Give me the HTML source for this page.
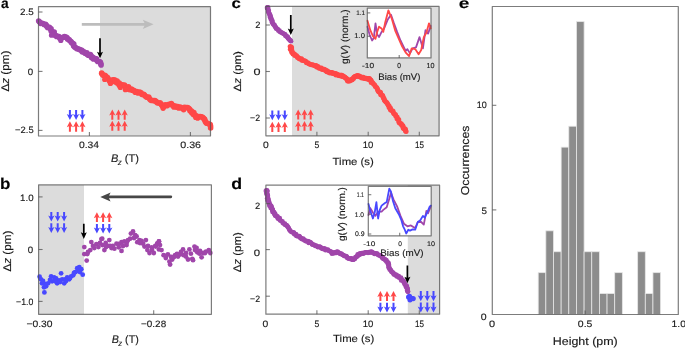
<!DOCTYPE html>
<html><head><meta charset="utf-8"><style>
html,body{margin:0;padding:0;background:#fff;width:685px;height:348px;overflow:hidden}
svg{display:block}
text{font-family:"Liberation Sans",sans-serif;text-rendering:geometricPrecision}
</style></head><body>
<svg width="685" height="348" viewBox="0 0 685 348">
<rect width="685" height="348" fill="#fff"/>
<rect x="100" y="6.7" width="110.5" height="129.3" fill="#dcdcdc"/>
<line x1="81.8" y1="24.3" x2="146" y2="24.3" stroke="#bdbdbd" stroke-width="2.7"/>
<path d="M153.6 24.3L142.8 19.7L145.2 24.3L142.8 28.9Z" fill="#bdbdbd"/>
<g fill="#a046aa"><circle cx="38.65" cy="21.12" r="2.8"/><circle cx="39.74" cy="22" r="2.8"/><circle cx="40.57" cy="23.33" r="2.8"/><circle cx="42.23" cy="23.24" r="2.8"/><circle cx="43.22" cy="23.84" r="2.8"/><circle cx="44.17" cy="24.51" r="2.8"/><circle cx="45.56" cy="24.31" r="2.8"/><circle cx="46.28" cy="25.42" r="2.8"/><circle cx="46.96" cy="26.41" r="2.8"/><circle cx="47.57" cy="27.46" r="2.8"/><circle cx="49.39" cy="27.28" r="2.8"/><circle cx="49.93" cy="28.4" r="2.8"/><circle cx="51.08" cy="28.92" r="2.8"/><circle cx="51.09" cy="30.96" r="2.8"/><circle cx="52.28" cy="31.82" r="2.8"/><circle cx="54.22" cy="31.93" r="2.8"/><circle cx="53.85" cy="34.21" r="2.8"/><circle cx="54.58" cy="35.05" r="2.8"/><circle cx="55.76" cy="35.53" r="2.8"/><circle cx="56.58" cy="36.4" r="2.8"/><circle cx="58.09" cy="36.27" r="2.8"/><circle cx="59.27" cy="36.68" r="2.8"/><circle cx="59.74" cy="38.2" r="2.8"/><circle cx="60.49" cy="37.97" r="2.8"/><circle cx="61.93" cy="37.72" r="2.8"/><circle cx="63.34" cy="37.31" r="2.8"/><circle cx="64.46" cy="36.5" r="2.8"/><circle cx="66.05" cy="36.95" r="2.8"/><circle cx="67.1" cy="37.78" r="2.8"/><circle cx="67.61" cy="39.27" r="2.8"/><circle cx="69.05" cy="39.65" r="2.8"/><circle cx="69.89" cy="40.68" r="2.8"/><circle cx="70.94" cy="41.46" r="2.8"/><circle cx="71.54" cy="42.63" r="2.8"/><circle cx="72.68" cy="43.32" r="2.8"/><circle cx="73.79" cy="44.05" r="2.8"/><circle cx="73.6" cy="46" r="2.8"/><circle cx="74.62" cy="47.03" r="2.8"/><circle cx="75.87" cy="47.83" r="2.8"/><circle cx="77.08" cy="48.67" r="2.8"/><circle cx="78.57" cy="49.07" r="2.8"/><circle cx="79.67" cy="49.44" r="2.8"/><circle cx="80.64" cy="50.07" r="2.8"/><circle cx="81.87" cy="50.21" r="2.8"/><circle cx="82.31" cy="52" r="2.8"/><circle cx="83.97" cy="51.85" r="2.8"/><circle cx="85.05" cy="53.21" r="2.8"/><circle cx="86.84" cy="52.92" r="2.8"/><circle cx="87.17" cy="54.61" r="2.8"/><circle cx="88.33" cy="55.2" r="2.8"/><circle cx="90.38" cy="54.63" r="2.8"/><circle cx="91.1" cy="55.7" r="2.8"/><circle cx="91.4" cy="57.53" r="2.8"/><circle cx="92.88" cy="57.4" r="2.8"/><circle cx="93.37" cy="58.9" r="2.8"/><circle cx="95.02" cy="58.53" r="2.8"/><circle cx="96.46" cy="58.79" r="2.8"/><circle cx="96.85" cy="60.46" r="2.8"/><circle cx="97.72" cy="61.47" r="2.8"/><circle cx="99.49" cy="61.55" r="2.8"/><circle cx="100.46" cy="62.39" r="2.8"/><circle cx="100.71" cy="63.69" r="2.8"/><circle cx="101.1" cy="64.9" r="2.8"/></g>
<g fill="#a046aa"><circle cx="51.5" cy="35.2" r="2.6"/><circle cx="60.8" cy="40.5" r="2.6"/></g>
<g fill="#ff4848"><circle cx="101.64" cy="73.16" r="2.8"/><circle cx="102.28" cy="74.32" r="2.8"/><circle cx="103.16" cy="75.24" r="2.8"/><circle cx="104.81" cy="75.39" r="2.8"/><circle cx="105.64" cy="75.93" r="2.8"/><circle cx="106.38" cy="77.11" r="2.8"/><circle cx="107.54" cy="77.46" r="2.8"/><circle cx="107.86" cy="78.7" r="2.8"/><circle cx="108.73" cy="79.79" r="2.8"/><circle cx="109.56" cy="80.9" r="2.8"/><circle cx="110.46" cy="82.1" r="2.8"/><circle cx="111.61" cy="81.6" r="2.8"/><circle cx="112.08" cy="80.07" r="2.8"/><circle cx="113.56" cy="79.9" r="2.8"/><circle cx="114.9" cy="80.04" r="2.8"/><circle cx="115.18" cy="81.95" r="2.8"/><circle cx="117.1" cy="81.12" r="2.8"/><circle cx="117.19" cy="82.88" r="2.8"/><circle cx="119.25" cy="83.16" r="2.8"/><circle cx="119.13" cy="85.06" r="2.8"/><circle cx="120.13" cy="85.72" r="2.8"/><circle cx="121.45" cy="85.09" r="2.8"/><circle cx="122.25" cy="84.91" r="2.8"/><circle cx="124.44" cy="85.09" r="2.8"/><circle cx="125.24" cy="86.31" r="2.8"/><circle cx="125.56" cy="88.82" r="2.8"/><circle cx="126.7" cy="87.77" r="2.8"/><circle cx="128.47" cy="86.83" r="2.8"/><circle cx="128.47" cy="89.03" r="2.8"/><circle cx="129.55" cy="89.7" r="2.8"/><circle cx="131.47" cy="89.02" r="2.8"/><circle cx="132.22" cy="90.14" r="2.8"/><circle cx="133.55" cy="90.21" r="2.8"/><circle cx="134.43" cy="91.1" r="2.8"/><circle cx="135.25" cy="92.24" r="2.8"/><circle cx="136.8" cy="91.61" r="2.8"/><circle cx="137.96" cy="92.92" r="2.8"/><circle cx="139.73" cy="91.96" r="2.8"/><circle cx="141.01" cy="92.72" r="2.8"/><circle cx="141.9" cy="94.45" r="2.8"/><circle cx="143.63" cy="94.25" r="2.8"/><circle cx="144.48" cy="95.05" r="2.8"/><circle cx="145.12" cy="96.09" r="2.8"/><circle cx="146.16" cy="96.69" r="2.8"/><circle cx="147.08" cy="97.28" r="2.8"/><circle cx="148.72" cy="97.12" r="2.8"/><circle cx="149.6" cy="98.91" r="2.8"/><circle cx="150.61" cy="99.94" r="2.8"/><circle cx="151.83" cy="100.56" r="2.8"/><circle cx="153.33" cy="100.59" r="2.8"/><circle cx="154.83" cy="100.64" r="2.8"/><circle cx="156.02" cy="101.26" r="2.8"/><circle cx="156.93" cy="102.44" r="2.8"/><circle cx="158.14" cy="103.01" r="2.8"/><circle cx="160.01" cy="102.72" r="2.8"/><circle cx="160.75" cy="103.7" r="2.8"/><circle cx="161.48" cy="104.7" r="2.8"/><circle cx="162.18" cy="105.72" r="2.8"/><circle cx="163.32" cy="107.08" r="2.8"/><circle cx="164.3" cy="106.03" r="2.8"/><circle cx="165.16" cy="104.69" r="2.8"/><circle cx="166.86" cy="105.73" r="2.8"/><circle cx="168.1" cy="104.6" r="2.8"/><circle cx="169.58" cy="104.4" r="2.8"/><circle cx="171.36" cy="103.57" r="2.8"/><circle cx="172.09" cy="104.72" r="2.8"/><circle cx="173.14" cy="105.49" r="2.8"/><circle cx="173.89" cy="107.03" r="2.8"/><circle cx="175.36" cy="105.97" r="2.8"/><circle cx="176.38" cy="107.1" r="2.8"/><circle cx="177.73" cy="106.62" r="2.8"/><circle cx="178.7" cy="107.88" r="2.8"/><circle cx="180.24" cy="106.93" r="2.8"/><circle cx="181.32" cy="107.72" r="2.8"/><circle cx="182.48" cy="108.17" r="2.8"/><circle cx="183.73" cy="109.04" r="2.8"/><circle cx="184.44" cy="107.36" r="2.8"/><circle cx="186.14" cy="107.43" r="2.8"/><circle cx="187.56" cy="107.58" r="2.8"/><circle cx="188.7" cy="108.31" r="2.8"/><circle cx="189.73" cy="109.27" r="2.8"/><circle cx="189.95" cy="110.85" r="2.8"/><circle cx="191.53" cy="111.07" r="2.8"/><circle cx="191.76" cy="112.64" r="2.8"/><circle cx="193.85" cy="112.53" r="2.8"/><circle cx="193.39" cy="114.57" r="2.8"/><circle cx="195.13" cy="115.15" r="2.8"/><circle cx="195.88" cy="115.91" r="2.8"/><circle cx="196.66" cy="117.31" r="2.8"/><circle cx="197.66" cy="117.96" r="2.8"/><circle cx="198.67" cy="116.57" r="2.8"/><circle cx="200.24" cy="116.56" r="2.8"/><circle cx="201.34" cy="116.78" r="2.8"/><circle cx="202.67" cy="117.34" r="2.8"/><circle cx="203.44" cy="118.23" r="2.8"/><circle cx="204.44" cy="118.99" r="2.8"/><circle cx="204.66" cy="119.71" r="2.8"/><circle cx="205.28" cy="121.41" r="2.8"/><circle cx="206.11" cy="122.74" r="2.8"/><circle cx="206.97" cy="123.15" r="2.8"/><circle cx="208.59" cy="123.8" r="2.8"/><circle cx="210.19" cy="124.47" r="2.8"/><circle cx="210.55" cy="126.12" r="2.8"/><circle cx="210.6" cy="128" r="2.8"/></g>
<g fill="#ff4848"><circle cx="104.7" cy="79.5" r="2.6"/><circle cx="110.4" cy="83.5" r="2.6"/><circle cx="120.3" cy="87.5" r="2.6"/><circle cx="125.4" cy="89.7" r="2.6"/><circle cx="163.1" cy="108.3" r="2.6"/><circle cx="183.6" cy="109.8" r="2.6"/><circle cx="195.7" cy="117.5" r="2.6"/></g>
<path d="M100 58.3L103 51.7L100.85 52.7L100.85 38.2L99.15 38.2L99.15 52.7L97 51.7Z" fill="#000"/>
<path d="M69.9 119.9L73 113.9L70.9 114.9L70.9 109.9L68.9 109.9L68.9 114.9L66.8 113.9Z" fill="#4848ff"/>
<path d="M69.9 121.3L73 127.3L70.9 126.3L70.9 131.8L68.9 131.8L68.9 126.3L66.8 127.3Z" fill="#ff4848"/>
<path d="M76.1 119.9L79.2 113.9L77.1 114.9L77.1 109.9L75.1 109.9L75.1 114.9L73 113.9Z" fill="#4848ff"/>
<path d="M76.1 121.3L79.2 127.3L77.1 126.3L77.1 131.8L75.1 131.8L75.1 126.3L73 127.3Z" fill="#ff4848"/>
<path d="M82.4 119.9L85.5 113.9L83.4 114.9L83.4 109.9L81.4 109.9L81.4 114.9L79.3 113.9Z" fill="#4848ff"/>
<path d="M82.4 121.3L85.5 127.3L83.4 126.3L83.4 131.8L81.4 131.8L81.4 126.3L79.3 127.3Z" fill="#ff4848"/>
<path d="M112.3 109.4L115.4 115.4L113.3 114.4L113.3 119.8L111.3 119.8L111.3 114.4L109.2 115.4Z" fill="#ff4848"/>
<path d="M112.3 120.8L115.4 126.8L113.3 125.8L113.3 130.8L111.3 130.8L111.3 125.8L109.2 126.8Z" fill="#ff4848"/>
<path d="M118.5 109.4L121.6 115.4L119.5 114.4L119.5 119.8L117.5 119.8L117.5 114.4L115.4 115.4Z" fill="#ff4848"/>
<path d="M118.5 120.8L121.6 126.8L119.5 125.8L119.5 130.8L117.5 130.8L117.5 125.8L115.4 126.8Z" fill="#ff4848"/>
<path d="M124.7 109.4L127.8 115.4L125.7 114.4L125.7 119.8L123.7 119.8L123.7 114.4L121.6 115.4Z" fill="#ff4848"/>
<path d="M124.7 120.8L127.8 126.8L125.7 125.8L125.7 130.8L123.7 130.8L123.7 125.8L121.6 126.8Z" fill="#ff4848"/>
<rect x="38.5" y="6.7" width="172" height="129.3" fill="none" stroke="#505050" stroke-width="1.2" stroke-opacity="0.75" stroke-linejoin="round"/>
<line x1="38.5" y1="12" x2="42.5" y2="12" stroke="#505050" stroke-width="1.1" stroke-opacity="0.75"/>
<line x1="38.5" y1="71.4" x2="42.5" y2="71.4" stroke="#505050" stroke-width="1.1" stroke-opacity="0.75"/>
<line x1="38.5" y1="130.4" x2="42.5" y2="130.4" stroke="#505050" stroke-width="1.1" stroke-opacity="0.75"/>
<line x1="89.4" y1="136" x2="89.4" y2="132" stroke="#505050" stroke-width="1.1" stroke-opacity="0.75"/>
<line x1="190.4" y1="136" x2="190.4" y2="132" stroke="#505050" stroke-width="1.1" stroke-opacity="0.75"/>
<rect x="38.6" y="184.95" width="45.4" height="129.35" fill="#dcdcdc"/>
<line x1="108" y1="196.85" x2="170.9" y2="196.85" stroke="#474747" stroke-width="2.6" stroke-linecap="round"/>
<path d="M100.3 196.9L110.6 192.4L108.4 196.9L110.6 201.4Z" fill="#474747"/>
<g fill="#4848ff"><circle cx="39.6" cy="276.7" r="2.4"/><circle cx="41" cy="279.3" r="2.4"/><circle cx="42" cy="283.3" r="2.4"/><circle cx="44" cy="287.3" r="2.4"/><circle cx="44.4" cy="292.4" r="2.4"/><circle cx="46.1" cy="286.3" r="2.4"/><circle cx="48.1" cy="283.3" r="2.4"/><circle cx="51.1" cy="276.3" r="2.4"/><circle cx="52.1" cy="281.3" r="2.4"/><circle cx="54.1" cy="277.3" r="2.4"/><circle cx="56.1" cy="278.3" r="2.4"/><circle cx="57.1" cy="283.3" r="2.4"/><circle cx="59.1" cy="280.3" r="2.4"/><circle cx="61.1" cy="273.3" r="2.4"/><circle cx="62.2" cy="279.3" r="2.4"/><circle cx="64.2" cy="283.3" r="2.4"/><circle cx="65.2" cy="279.3" r="2.4"/><circle cx="67.2" cy="277.3" r="2.4"/><circle cx="69.2" cy="279.3" r="2.4"/><circle cx="71.2" cy="276.3" r="2.4"/><circle cx="73.2" cy="275.3" r="2.4"/><circle cx="75.2" cy="272.2" r="2.4"/><circle cx="77.2" cy="268.2" r="2.4"/><circle cx="79.3" cy="267.2" r="2.4"/><circle cx="81.3" cy="269.2" r="2.4"/><circle cx="82.7" cy="274.7" r="2.4"/><circle cx="50" cy="280" r="2.4"/><circle cx="55" cy="281" r="2.4"/><circle cx="60" cy="282" r="2.4"/><circle cx="66" cy="281" r="2.4"/><circle cx="70" cy="278" r="2.4"/><circle cx="74" cy="273" r="2.4"/><circle cx="78" cy="271" r="2.4"/><circle cx="45" cy="284" r="2.4"/><circle cx="43" cy="281" r="2.4"/><circle cx="80" cy="272" r="2.4"/></g>
<g fill="#a046aa"><circle cx="84.3" cy="247.1" r="2.4"/><circle cx="84.3" cy="254.1" r="2.4"/><circle cx="86.7" cy="260.6" r="2.4"/><circle cx="87.3" cy="254.1" r="2.4"/><circle cx="90.3" cy="250.1" r="2.4"/><circle cx="91.3" cy="242.1" r="2.4"/><circle cx="94.3" cy="248.1" r="2.4"/><circle cx="96.4" cy="244.1" r="2.4"/><circle cx="98.4" cy="247.1" r="2.4"/><circle cx="101.4" cy="239.1" r="2.4"/><circle cx="102.4" cy="245.1" r="2.4"/><circle cx="104.4" cy="250.1" r="2.4"/><circle cx="102.2" cy="238.7" r="2.4"/><circle cx="105.7" cy="243" r="2.4"/><circle cx="109.3" cy="240.1" r="2.4"/><circle cx="107.9" cy="245.8" r="2.4"/><circle cx="111.5" cy="248" r="2.4"/><circle cx="112.9" cy="245.8" r="2.4"/><circle cx="114.4" cy="248.7" r="2.4"/><circle cx="116.5" cy="243.7" r="2.4"/><circle cx="118.7" cy="247.3" r="2.4"/><circle cx="121.5" cy="250.9" r="2.4"/><circle cx="121.5" cy="242.2" r="2.4"/><circle cx="124.4" cy="241.5" r="2.4"/><circle cx="126.6" cy="245.1" r="2.4"/><circle cx="128" cy="240.1" r="2.4"/><circle cx="130.1" cy="238.7" r="2.4"/><circle cx="130.9" cy="233.6" r="2.4"/><circle cx="133" cy="231.5" r="2.4"/><circle cx="135.2" cy="235.1" r="2.4"/><circle cx="136.6" cy="236.5" r="2.4"/><circle cx="137.3" cy="242.2" r="2.4"/><circle cx="139.5" cy="240.1" r="2.4"/><circle cx="141.6" cy="240.8" r="2.4"/><circle cx="143.1" cy="243.7" r="2.4"/><circle cx="144.5" cy="246.6" r="2.4"/><circle cx="145.9" cy="240.1" r="2.4"/><circle cx="147.4" cy="250.1" r="2.4"/><circle cx="149.5" cy="253" r="2.4"/><circle cx="151.7" cy="247.3" r="2.4"/><circle cx="153.8" cy="253" r="2.4"/><circle cx="155.3" cy="245.8" r="2.4"/><circle cx="157.4" cy="243.7" r="2.4"/><circle cx="158.9" cy="241.5" r="2.4"/><circle cx="158.9" cy="249.4" r="2.4"/><circle cx="155.7" cy="246.6" r="2.4"/><circle cx="157.2" cy="243.7" r="2.4"/><circle cx="159" cy="241.5" r="2.4"/><circle cx="160" cy="245.1" r="2.4"/><circle cx="161.5" cy="250.1" r="2.4"/><circle cx="163.6" cy="255.2" r="2.4"/><circle cx="165.8" cy="258" r="2.4"/><circle cx="167.9" cy="254.4" r="2.4"/><circle cx="169.4" cy="261.6" r="2.4"/><circle cx="170.1" cy="264.5" r="2.4"/><circle cx="172.2" cy="259.5" r="2.4"/><circle cx="175.1" cy="255.2" r="2.4"/><circle cx="178" cy="256.6" r="2.4"/><circle cx="180.1" cy="254.4" r="2.4"/><circle cx="183" cy="249.4" r="2.4"/><circle cx="183.7" cy="255.2" r="2.4"/><circle cx="185.9" cy="256.6" r="2.4"/><circle cx="188" cy="259.5" r="2.4"/><circle cx="189.4" cy="249.4" r="2.4"/><circle cx="190.9" cy="253.7" r="2.4"/><circle cx="192.3" cy="258.8" r="2.4"/><circle cx="193" cy="260.2" r="2.4"/><circle cx="194.5" cy="246.6" r="2.4"/><circle cx="196.6" cy="248" r="2.4"/><circle cx="197.3" cy="252.3" r="2.4"/><circle cx="199.5" cy="253.7" r="2.4"/><circle cx="201.6" cy="257.3" r="2.4"/><circle cx="203.1" cy="253" r="2.4"/><circle cx="206" cy="251.6" r="2.4"/><circle cx="208.8" cy="250.1" r="2.4"/><circle cx="210.3" cy="253" r="2.4"/><circle cx="88" cy="252" r="2.4"/><circle cx="93" cy="246" r="2.4"/><circle cx="100" cy="243" r="2.4"/><circle cx="106" cy="247" r="2.4"/><circle cx="110" cy="246" r="2.4"/><circle cx="119" cy="244" r="2.4"/><circle cx="123" cy="246" r="2.4"/><circle cx="127" cy="242" r="2.4"/><circle cx="134" cy="238" r="2.4"/><circle cx="140" cy="243" r="2.4"/><circle cx="148" cy="246" r="2.4"/><circle cx="152" cy="250" r="2.4"/><circle cx="166" cy="256" r="2.4"/><circle cx="171" cy="257" r="2.4"/><circle cx="174" cy="257" r="2.4"/><circle cx="177" cy="254" r="2.4"/><circle cx="181" cy="252" r="2.4"/><circle cx="186" cy="253" r="2.4"/><circle cx="195" cy="250" r="2.4"/><circle cx="200" cy="251" r="2.4"/><circle cx="205" cy="253" r="2.4"/></g>
<path d="M83.8 238.9L86.8 232.3L84.65 233.3L84.65 223.7L82.95 223.7L82.95 233.3L80.8 232.3Z" fill="#000"/>
<path d="M51.3 221.6L54.4 215.6L52.3 216.6L52.3 212L50.3 212L50.3 216.6L48.2 215.6Z" fill="#4848ff"/>
<path d="M51.3 233L54.4 227L52.3 228L52.3 223.2L50.3 223.2L50.3 228L48.2 227Z" fill="#4848ff"/>
<path d="M57.7 221.6L60.8 215.6L58.7 216.6L58.7 212L56.7 212L56.7 216.6L54.6 215.6Z" fill="#4848ff"/>
<path d="M57.7 233L60.8 227L58.7 228L58.7 223.2L56.7 223.2L56.7 228L54.6 227Z" fill="#4848ff"/>
<path d="M64.1 221.6L67.2 215.6L65.1 216.6L65.1 212L63.1 212L63.1 216.6L61 215.6Z" fill="#4848ff"/>
<path d="M64.1 233L67.2 227L65.1 228L65.1 223.2L63.1 223.2L63.1 228L61 227Z" fill="#4848ff"/>
<path d="M96.9 212.2L100 218.2L97.9 217.2L97.9 221.9L95.9 221.9L95.9 217.2L93.8 218.2Z" fill="#ff4848"/>
<path d="M96.9 233.6L100 227.6L97.9 228.6L97.9 223.9L95.9 223.9L95.9 228.6L93.8 227.6Z" fill="#4848ff"/>
<path d="M103.1 212.2L106.2 218.2L104.1 217.2L104.1 221.9L102.1 221.9L102.1 217.2L100 218.2Z" fill="#ff4848"/>
<path d="M103.1 233.6L106.2 227.6L104.1 228.6L104.1 223.9L102.1 223.9L102.1 228.6L100 227.6Z" fill="#4848ff"/>
<path d="M109.3 212.2L112.4 218.2L110.3 217.2L110.3 221.9L108.3 221.9L108.3 217.2L106.2 218.2Z" fill="#ff4848"/>
<path d="M109.3 233.6L112.4 227.6L110.3 228.6L110.3 223.9L108.3 223.9L108.3 228.6L106.2 227.6Z" fill="#4848ff"/>
<rect x="38.6" y="184.95" width="172.8" height="129.35" fill="none" stroke="#505050" stroke-width="1.2" stroke-opacity="0.75" stroke-linejoin="round"/>
<line x1="38.6" y1="196.9" x2="42.6" y2="196.9" stroke="#505050" stroke-width="1.1" stroke-opacity="0.75"/>
<line x1="38.6" y1="249.5" x2="42.6" y2="249.5" stroke="#505050" stroke-width="1.1" stroke-opacity="0.75"/>
<line x1="38.6" y1="301.4" x2="42.6" y2="301.4" stroke="#505050" stroke-width="1.1" stroke-opacity="0.75"/>
<line x1="153.7" y1="314.3" x2="153.7" y2="310.3" stroke="#505050" stroke-width="1.1" stroke-opacity="0.75"/>
<rect x="292" y="6.4" width="147.1" height="129.4" fill="#dcdcdc"/>
<g fill="#a046aa"><circle cx="267.82" cy="7.31" r="2.4"/><circle cx="267.47" cy="7.99" r="2.4"/><circle cx="267.73" cy="8.71" r="2.4"/><circle cx="268.13" cy="9.54" r="2.4"/><circle cx="268.65" cy="10.41" r="2.4"/><circle cx="268.37" cy="11.51" r="2.4"/><circle cx="268.6" cy="12.38" r="2.4"/><circle cx="269.11" cy="13.11" r="2.4"/><circle cx="269.34" cy="13.91" r="2.4"/><circle cx="269.82" cy="14.63" r="2.4"/><circle cx="270.26" cy="15.36" r="2.4"/><circle cx="270.15" cy="16.26" r="2.4"/><circle cx="270.22" cy="17.13" r="2.4"/><circle cx="270.99" cy="17.75" r="2.4"/><circle cx="270.62" cy="18.81" r="2.4"/><circle cx="271.46" cy="19.39" r="2.4"/><circle cx="271.8" cy="20.18" r="2.4"/><circle cx="272.33" cy="20.9" r="2.4"/><circle cx="271.85" cy="22.12" r="2.4"/><circle cx="272.49" cy="22.83" r="2.4"/><circle cx="272.79" cy="23.73" r="2.4"/><circle cx="273.47" cy="24.45" r="2.4"/><circle cx="274.43" cy="24.97" r="2.4"/><circle cx="274.69" cy="25.93" r="2.4"/><circle cx="275.1" cy="26.8" r="2.4"/><circle cx="275.98" cy="27.28" r="2.4"/><circle cx="276.02" cy="28.57" r="2.4"/><circle cx="277.11" cy="28.85" r="2.4"/><circle cx="277.96" cy="29.36" r="2.4"/><circle cx="278.25" cy="30.51" r="2.4"/><circle cx="279.43" cy="30.6" r="2.4"/><circle cx="279.73" cy="31.86" r="2.4"/><circle cx="280.83" cy="32.04" r="2.4"/><circle cx="281.62" cy="32.68" r="2.4"/><circle cx="282.58" cy="33.05" r="2.4"/><circle cx="283.33" cy="33.72" r="2.4"/><circle cx="284.29" cy="34.05" r="2.4"/><circle cx="285.13" cy="34.52" r="2.4"/><circle cx="285.34" cy="35.74" r="2.4"/><circle cx="286.45" cy="35.85" r="2.4"/><circle cx="286.77" cy="36.84" r="2.4"/><circle cx="287.8" cy="37.01" r="2.4"/><circle cx="287.86" cy="38.12" r="2.4"/><circle cx="288.47" cy="38.67" r="2.4"/><circle cx="289.13" cy="39.23" r="2.4"/><circle cx="289.65" cy="39.88" r="2.4"/><circle cx="290.26" cy="40.37" r="2.4"/><circle cx="290.53" cy="40.97" r="2.4"/><circle cx="291" cy="41.2" r="2.4"/></g>
<g fill="#a046aa"><circle cx="267.5" cy="7.8" r="2.7"/></g>
<g fill="#ff4848"><circle cx="290.16" cy="46.57" r="2.5"/><circle cx="291.37" cy="47.09" r="2.5"/><circle cx="291.6" cy="47.94" r="2.5"/><circle cx="290.33" cy="49.13" r="2.5"/><circle cx="291.62" cy="50.01" r="2.5"/><circle cx="291.95" cy="50.95" r="2.5"/><circle cx="291.73" cy="52.23" r="2.5"/><circle cx="292.68" cy="52.75" r="2.5"/><circle cx="293" cy="54.09" r="2.5"/><circle cx="294.47" cy="54.08" r="2.5"/><circle cx="294.86" cy="55.61" r="2.5"/><circle cx="296.34" cy="55.54" r="2.5"/><circle cx="297.02" cy="56.51" r="2.5"/><circle cx="297.58" cy="57.51" r="2.5"/><circle cx="298.59" cy="57.81" r="2.5"/><circle cx="299.22" cy="58.65" r="2.5"/><circle cx="300.22" cy="58.94" r="2.5"/><circle cx="301.57" cy="58.69" r="2.5"/><circle cx="301.94" cy="60.27" r="2.5"/><circle cx="303.19" cy="60.5" r="2.5"/><circle cx="304.49" cy="60.76" r="2.5"/><circle cx="305.73" cy="61.21" r="2.5"/><circle cx="306.52" cy="62.64" r="2.5"/><circle cx="307.88" cy="62.87" r="2.5"/><circle cx="308.86" cy="63.87" r="2.5"/><circle cx="310.13" cy="64.15" r="2.5"/><circle cx="311.25" cy="64.85" r="2.5"/><circle cx="312.63" cy="64.75" r="2.5"/><circle cx="313.73" cy="65.34" r="2.5"/><circle cx="314.89" cy="65.63" r="2.5"/><circle cx="316.14" cy="65.59" r="2.5"/><circle cx="316.7" cy="66.9" r="2.5"/><circle cx="317.97" cy="66.5" r="2.5"/><circle cx="318.53" cy="67.5" r="2.5"/><circle cx="319.24" cy="68.13" r="2.5"/><circle cx="320.26" cy="68.17" r="2.5"/><circle cx="321.42" cy="67.95" r="2.5"/><circle cx="321.88" cy="69.25" r="2.5"/><circle cx="322.89" cy="69.51" r="2.5"/><circle cx="324.1" cy="69.37" r="2.5"/><circle cx="325.07" cy="69.65" r="2.5"/><circle cx="325.61" cy="70.67" r="2.5"/><circle cx="326.68" cy="70.41" r="2.5"/><circle cx="326.85" cy="71.86" r="2.5"/><circle cx="327.72" cy="71.62" r="2.5"/><circle cx="328.3" cy="71.89" r="2.5"/><circle cx="328.92" cy="71.98" r="2.5"/><circle cx="329.36" cy="72.52" r="2.5"/><circle cx="329.85" cy="73.06" r="2.5"/><circle cx="330.63" cy="72.39" r="2.5"/><circle cx="331.17" cy="72.59" r="2.5"/><circle cx="331.69" cy="72.97" r="2.5"/><circle cx="332.32" cy="72.67" r="2.5"/><circle cx="332.8" cy="73.18" r="2.5"/><circle cx="333.38" cy="73.26" r="2.5"/><circle cx="334.01" cy="73.31" r="2.5"/><circle cx="334.44" cy="73.85" r="2.5"/><circle cx="335.09" cy="73.92" r="2.5"/><circle cx="335.9" cy="73.61" r="2.5"/><circle cx="336.06" cy="75.04" r="2.5"/><circle cx="336.95" cy="74.4" r="2.5"/><circle cx="337.57" cy="74.67" r="2.5"/><circle cx="338.25" cy="74.76" r="2.5"/><circle cx="338.82" cy="75.6" r="2.5"/><circle cx="339.49" cy="75.75" r="2.5"/><circle cx="340.32" cy="75.31" r="2.5"/><circle cx="341.05" cy="75.37" r="2.5"/><circle cx="341.89" cy="75.23" r="2.5"/><circle cx="342.09" cy="76.54" r="2.5"/><circle cx="343.2" cy="75.94" r="2.5"/><circle cx="343.6" cy="76.75" r="2.5"/><circle cx="344.39" cy="76.9" r="2.5"/><circle cx="345.06" cy="77.32" r="2.5"/><circle cx="345.66" cy="77.9" r="2.5"/><circle cx="346.43" cy="78.41" r="2.5"/><circle cx="347.16" cy="78.94" r="2.5"/><circle cx="347.22" cy="80.05" r="2.5"/><circle cx="347.64" cy="80.89" r="2.5"/><circle cx="348.39" cy="81.01" r="2.5"/><circle cx="348.86" cy="80.43" r="2.5"/><circle cx="349.63" cy="80.94" r="2.5"/><circle cx="349.71" cy="79.9" r="2.5"/><circle cx="350.54" cy="79.95" r="2.5"/><circle cx="351.45" cy="80" r="2.5"/><circle cx="352.16" cy="79.67" r="2.5"/><circle cx="352.42" cy="78.65" r="2.5"/><circle cx="353.49" cy="78.41" r="2.5"/><circle cx="353.87" cy="77.37" r="2.5"/><circle cx="354.61" cy="76.74" r="2.5"/><circle cx="355.36" cy="76.27" r="2.5"/><circle cx="356.16" cy="76.47" r="2.5"/><circle cx="356.67" cy="75.98" r="2.5"/><circle cx="357.3" cy="75.58" r="2.5"/><circle cx="357.85" cy="76.01" r="2.5"/><circle cx="358.5" cy="76.06" r="2.5"/><circle cx="359.28" cy="75.88" r="2.5"/><circle cx="359.76" cy="76.67" r="2.5"/><circle cx="360.43" cy="76.98" r="2.5"/><circle cx="361.31" cy="77.07" r="2.5"/><circle cx="361.87" cy="77.89" r="2.5"/><circle cx="363.23" cy="77.14" r="2.5"/><circle cx="363.73" cy="78.12" r="2.5"/><circle cx="364.46" cy="78.58" r="2.5"/><circle cx="365.31" cy="78.33" r="2.5"/><circle cx="366.12" cy="78.15" r="2.5"/><circle cx="366.92" cy="78.9" r="2.5"/><circle cx="367.74" cy="78.57" r="2.5"/><circle cx="368.56" cy="78.46" r="2.5"/><circle cx="369.46" cy="78.47" r="2.5"/><circle cx="369.12" cy="79.79" r="2.5"/><circle cx="370.15" cy="79.63" r="2.5"/><circle cx="370.75" cy="79.96" r="2.5"/><circle cx="370.95" cy="80.57" r="2.5"/><circle cx="371.3" cy="81.23" r="2.5"/><circle cx="371.21" cy="82.53" r="2.5"/><circle cx="372.71" cy="82.82" r="2.5"/><circle cx="373.53" cy="83.98" r="2.5"/><circle cx="374.73" cy="84.98" r="2.5"/><circle cx="375.37" cy="86.51" r="2.5"/><circle cx="376.64" cy="87.46" r="2.5"/><circle cx="377.37" cy="88.67" r="2.5"/><circle cx="377.69" cy="89.99" r="2.5"/><circle cx="378.16" cy="91.08" r="2.5"/><circle cx="378.91" cy="91.93" r="2.5"/><circle cx="380.46" cy="92.22" r="2.5"/><circle cx="380.69" cy="93.42" r="2.5"/><circle cx="380.79" cy="94.77" r="2.5"/><circle cx="382.43" cy="95.17" r="2.5"/><circle cx="382.91" cy="96.36" r="2.5"/><circle cx="383.26" cy="97.65" r="2.5"/><circle cx="384.08" cy="98.65" r="2.5"/><circle cx="384.33" cy="100.01" r="2.5"/><circle cx="385.04" cy="101.06" r="2.5"/><circle cx="386.01" cy="101.94" r="2.5"/><circle cx="386.91" cy="102.85" r="2.5"/><circle cx="387.58" cy="103.9" r="2.5"/><circle cx="388.19" cy="104.99" r="2.5"/><circle cx="389.09" cy="105.9" r="2.5"/><circle cx="389.11" cy="107.43" r="2.5"/><circle cx="390.44" cy="108.07" r="2.5"/><circle cx="390.41" cy="109.73" r="2.5"/><circle cx="391.49" cy="110.57" r="2.5"/><circle cx="392.96" cy="111.12" r="2.5"/><circle cx="393.29" cy="112.58" r="2.5"/><circle cx="393.98" cy="113.78" r="2.5"/><circle cx="395.44" cy="114.53" r="2.5"/><circle cx="395.75" cy="116.12" r="2.5"/><circle cx="397.1" cy="117.04" r="2.5"/><circle cx="397.05" cy="118.86" r="2.5"/><circle cx="398.72" cy="119.49" r="2.5"/><circle cx="398.75" cy="121.11" r="2.5"/><circle cx="399.07" cy="122.44" r="2.5"/><circle cx="399.93" cy="123.31" r="2.5"/><circle cx="401.3" cy="123.74" r="2.5"/><circle cx="401.62" cy="124.88" r="2.5"/><circle cx="402.7" cy="125.44" r="2.5"/><circle cx="403.08" cy="126.48" r="2.5"/><circle cx="403.09" cy="127.79" r="2.5"/><circle cx="403.77" cy="128.68" r="2.5"/><circle cx="405.32" cy="128.97" r="2.5"/><circle cx="405.44" cy="130.09" r="2.5"/><circle cx="405.6" cy="131" r="2.5"/><circle cx="406.1" cy="131.4" r="2.5"/></g>
<path d="M290.8 35L293.8 28.4L291.65 29.4L291.65 15L289.95 15L289.95 29.4L287.8 28.4Z" fill="#000"/>
<path d="M272.3 120.3L275.4 114.3L273.3 115.3L273.3 110.4L271.3 110.4L271.3 115.3L269.2 114.3Z" fill="#4848ff"/>
<path d="M272.3 121.7L275.4 127.7L273.3 126.7L273.3 131.9L271.3 131.9L271.3 126.7L269.2 127.7Z" fill="#ff4848"/>
<path d="M278.5 120.3L281.6 114.3L279.5 115.3L279.5 110.4L277.5 110.4L277.5 115.3L275.4 114.3Z" fill="#4848ff"/>
<path d="M278.5 121.7L281.6 127.7L279.5 126.7L279.5 131.9L277.5 131.9L277.5 126.7L275.4 127.7Z" fill="#ff4848"/>
<path d="M284.8 120.3L287.9 114.3L285.8 115.3L285.8 110.4L283.8 110.4L283.8 115.3L281.7 114.3Z" fill="#4848ff"/>
<path d="M284.8 121.7L287.9 127.7L285.8 126.7L285.8 131.9L283.8 131.9L283.8 126.7L281.7 127.7Z" fill="#ff4848"/>
<path d="M298.2 109.4L301.3 115.4L299.2 114.4L299.2 119.5L297.2 119.5L297.2 114.4L295.1 115.4Z" fill="#ff4848"/>
<path d="M298.2 120.9L301.3 126.9L299.2 125.9L299.2 130.8L297.2 130.8L297.2 125.9L295.1 126.9Z" fill="#ff4848"/>
<path d="M304.5 109.4L307.6 115.4L305.5 114.4L305.5 119.5L303.5 119.5L303.5 114.4L301.4 115.4Z" fill="#ff4848"/>
<path d="M304.5 120.9L307.6 126.9L305.5 125.9L305.5 130.8L303.5 130.8L303.5 125.9L301.4 126.9Z" fill="#ff4848"/>
<path d="M310.7 109.4L313.8 115.4L311.7 114.4L311.7 119.5L309.7 119.5L309.7 114.4L307.6 115.4Z" fill="#ff4848"/>
<path d="M310.7 120.9L313.8 126.9L311.7 125.9L311.7 130.8L309.7 130.8L309.7 125.9L307.6 126.9Z" fill="#ff4848"/>
<rect x="265.9" y="6.4" width="173.2" height="129.4" fill="none" stroke="#505050" stroke-width="1.2" stroke-opacity="0.75" stroke-linejoin="round"/>
<line x1="265.9" y1="25" x2="269.9" y2="25" stroke="#505050" stroke-width="1.1" stroke-opacity="0.75"/>
<line x1="265.9" y1="71.5" x2="269.9" y2="71.5" stroke="#505050" stroke-width="1.1" stroke-opacity="0.75"/>
<line x1="265.9" y1="118" x2="269.9" y2="118" stroke="#505050" stroke-width="1.1" stroke-opacity="0.75"/>
<line x1="316.9" y1="135.8" x2="316.9" y2="131.8" stroke="#505050" stroke-width="1.1" stroke-opacity="0.75"/>
<line x1="368.2" y1="135.8" x2="368.2" y2="131.8" stroke="#505050" stroke-width="1.1" stroke-opacity="0.75"/>
<line x1="419.3" y1="135.8" x2="419.3" y2="131.8" stroke="#505050" stroke-width="1.1" stroke-opacity="0.75"/>
<rect x="367.3" y="8.1" width="63.7" height="49.8" fill="#ffffff"/>
<polyline points="367.5,26.7 369.5,34.5 372.1,40.5 373.8,37.9 375.5,23.3 377.2,34.5 379,37.1 381.6,31.9 384.1,28.4 387.6,19.8 391,14.7 393.6,22.4 397.1,31.9 400.5,40.5 403.9,47.4 405.7,50.9 407.4,49.1 410,53.4 412.6,48.3 416,47.4 419.5,37.1 422.9,48.3 425.5,30.2 428.1,33.6 430.7,25.9" fill="none" stroke="#a046aa" stroke-width="1.8" stroke-linejoin="round" stroke-linecap="round"/>
<polyline points="367.5,20.7 370.3,30.2 372.9,36.2 375.5,38.8 377.2,31.9 379,26.7 381.6,28.4 383.3,31.9 385,23.3 388.4,10.3 391.9,19 395.3,31 398.8,38.8 402.2,46.6 405.7,52.6 409.1,56 411.7,48.3 415.2,49.1 418.6,54.3 421.2,50 423.8,37.1 426.4,32.8 429,23.3 430.8,28.4" fill="none" stroke="#ff4848" stroke-width="1.8" stroke-linejoin="round" stroke-linecap="round"/>
<rect x="367.3" y="8.1" width="63.7" height="49.8" fill="none" stroke="#505050" stroke-width="1.2" stroke-opacity="0.75" stroke-linejoin="round"/>
<line x1="367.3" y1="12.9" x2="370.3" y2="12.9" stroke="#505050" stroke-width="1.1" stroke-opacity="0.75"/>
<line x1="367.3" y1="36.2" x2="370.3" y2="36.2" stroke="#505050" stroke-width="1.1" stroke-opacity="0.75"/>
<line x1="399.2" y1="57.9" x2="399.2" y2="54.9" stroke="#505050" stroke-width="1.1" stroke-opacity="0.75"/>
<rect x="407.8" y="185.2" width="31.8" height="129" fill="#dcdcdc"/>
<g fill="#a046aa"><circle cx="267.17" cy="190.49" r="2.35"/><circle cx="267.12" cy="191.21" r="2.35"/><circle cx="266.81" cy="192.25" r="2.35"/><circle cx="266.51" cy="193.46" r="2.35"/><circle cx="267.56" cy="194.56" r="2.35"/><circle cx="267.8" cy="195.76" r="2.35"/><circle cx="267.82" cy="196.91" r="2.35"/><circle cx="267.22" cy="198.14" r="2.35"/><circle cx="268.41" cy="198.98" r="2.35"/><circle cx="267.75" cy="200.26" r="2.35"/><circle cx="268.14" cy="201.26" r="2.35"/><circle cx="269.24" cy="201.99" r="2.35"/><circle cx="268.95" cy="203.12" r="2.35"/><circle cx="269.42" cy="203.92" r="2.35"/><circle cx="269.84" cy="204.68" r="2.35"/><circle cx="269.41" cy="205.87" r="2.35"/><circle cx="271.08" cy="205.9" r="2.35"/><circle cx="271.59" cy="206.59" r="2.35"/><circle cx="270.66" cy="208" r="2.35"/><circle cx="271.82" cy="208.42" r="2.35"/><circle cx="272.48" cy="209.09" r="2.35"/><circle cx="272.65" cy="209.98" r="2.35"/><circle cx="272.97" cy="210.8" r="2.35"/><circle cx="272.54" cy="212.04" r="2.35"/><circle cx="273.98" cy="212.14" r="2.35"/><circle cx="274.42" cy="212.81" r="2.35"/><circle cx="274.44" cy="213.82" r="2.35"/><circle cx="274.99" cy="214.4" r="2.35"/><circle cx="275.04" cy="215.44" r="2.35"/><circle cx="275.73" cy="215.94" r="2.35"/><circle cx="276.87" cy="216.04" r="2.35"/><circle cx="277.63" cy="216.5" r="2.35"/><circle cx="277.53" cy="217.85" r="2.35"/><circle cx="278" cy="218.65" r="2.35"/><circle cx="279.74" cy="218.2" r="2.35"/><circle cx="279.63" cy="219.67" r="2.35"/><circle cx="280.18" cy="220.52" r="2.35"/><circle cx="281.18" cy="221.02" r="2.35"/><circle cx="282.46" cy="221.32" r="2.35"/><circle cx="282.62" cy="222.79" r="2.35"/><circle cx="283.51" cy="223.53" r="2.35"/><circle cx="284.91" cy="223.71" r="2.35"/><circle cx="285.14" cy="224.96" r="2.35"/><circle cx="286.3" cy="225.17" r="2.35"/><circle cx="287.15" cy="225.61" r="2.35"/><circle cx="287.44" cy="226.56" r="2.35"/><circle cx="288.05" cy="227.17" r="2.35"/><circle cx="288.59" cy="227.85" r="2.35"/><circle cx="288.93" cy="228.77" r="2.35"/><circle cx="289.37" cy="229.64" r="2.35"/><circle cx="289.9" cy="230.46" r="2.35"/><circle cx="290.56" cy="231.17" r="2.35"/><circle cx="291.21" cy="231.86" r="2.35"/><circle cx="292.08" cy="232.27" r="2.35"/><circle cx="293.21" cy="232.27" r="2.35"/><circle cx="293.89" cy="232.62" r="2.35"/><circle cx="293.88" cy="233.58" r="2.35"/><circle cx="294.41" cy="233.89" r="2.35"/><circle cx="294.75" cy="234.44" r="2.35"/><circle cx="295.79" cy="234.06" r="2.35"/><circle cx="296.26" cy="234.58" r="2.35"/><circle cx="296.35" cy="236" r="2.35"/><circle cx="297.34" cy="235.96" r="2.35"/><circle cx="298.06" cy="236.5" r="2.35"/><circle cx="299.31" cy="236.06" r="2.35"/><circle cx="299.89" cy="236.92" r="2.35"/><circle cx="300.26" cy="238.06" r="2.35"/><circle cx="301.24" cy="238.17" r="2.35"/><circle cx="301.7" cy="239.12" r="2.35"/><circle cx="303.17" cy="238.56" r="2.35"/><circle cx="303.71" cy="239.4" r="2.35"/><circle cx="304.19" cy="240.36" r="2.35"/><circle cx="305.24" cy="240.32" r="2.35"/><circle cx="305.76" cy="241.23" r="2.35"/><circle cx="306.69" cy="241.3" r="2.35"/><circle cx="307.76" cy="241.04" r="2.35"/><circle cx="308.54" cy="241.38" r="2.35"/><circle cx="308.69" cy="243.02" r="2.35"/><circle cx="310.07" cy="242.16" r="2.35"/><circle cx="310.79" cy="242.65" r="2.35"/><circle cx="311.45" cy="243.23" r="2.35"/><circle cx="311.95" cy="244.16" r="2.35"/><circle cx="312.61" cy="244.74" r="2.35"/><circle cx="313.65" cy="244.58" r="2.35"/><circle cx="314.4" cy="245" r="2.35"/><circle cx="314.95" cy="245.8" r="2.35"/><circle cx="316.1" cy="245.5" r="2.35"/><circle cx="316.79" cy="246.04" r="2.35"/><circle cx="317.39" cy="246.79" r="2.35"/><circle cx="318.15" cy="247.19" r="2.35"/><circle cx="319.22" cy="246.59" r="2.35"/><circle cx="319.9" cy="246.93" r="2.35"/><circle cx="320.64" cy="247.14" r="2.35"/><circle cx="321.24" cy="248.2" r="2.35"/><circle cx="322" cy="248.29" r="2.35"/><circle cx="322.61" cy="248.88" r="2.35"/><circle cx="323.44" cy="248.8" r="2.35"/><circle cx="324.53" cy="248.35" r="2.35"/><circle cx="324.94" cy="249.45" r="2.35"/><circle cx="325.53" cy="250.14" r="2.35"/><circle cx="326.78" cy="249.65" r="2.35"/><circle cx="327.81" cy="249.6" r="2.35"/><circle cx="328.3" cy="250.53" r="2.35"/><circle cx="329.16" cy="250.87" r="2.35"/><circle cx="330.03" cy="251.26" r="2.35"/><circle cx="330.89" cy="251.6" r="2.35"/><circle cx="331.53" cy="252.16" r="2.35"/><circle cx="331.87" cy="253.64" r="2.35"/><circle cx="332.8" cy="252.58" r="2.35"/><circle cx="333.61" cy="253.47" r="2.35"/><circle cx="334.16" cy="252.66" r="2.35"/><circle cx="334.91" cy="252.33" r="2.35"/><circle cx="336.01" cy="252.97" r="2.35"/><circle cx="336.61" cy="251.93" r="2.35"/><circle cx="337.49" cy="251.7" r="2.35"/><circle cx="338.19" cy="252.28" r="2.35"/><circle cx="338.8" cy="252.89" r="2.35"/><circle cx="339.68" cy="252.98" r="2.35"/><circle cx="340.19" cy="253.85" r="2.35"/><circle cx="341.31" cy="253.64" r="2.35"/><circle cx="341.98" cy="254.23" r="2.35"/><circle cx="342.58" cy="254.94" r="2.35"/><circle cx="343.57" cy="255.09" r="2.35"/><circle cx="344.11" cy="255.96" r="2.35"/><circle cx="345.1" cy="256.14" r="2.35"/><circle cx="346.12" cy="256.16" r="2.35"/><circle cx="346.85" cy="256.55" r="2.35"/><circle cx="347.23" cy="257.88" r="2.35"/><circle cx="348.09" cy="258.15" r="2.35"/><circle cx="348.82" cy="258.74" r="2.35"/><circle cx="349.74" cy="258.62" r="2.35"/><circle cx="350.52" cy="258.69" r="2.35"/><circle cx="351.45" cy="258.33" r="2.35"/><circle cx="351.36" cy="259.51" r="2.35"/><circle cx="352.49" cy="258.91" r="2.35"/><circle cx="352.49" cy="259.55" r="2.35"/><circle cx="352.84" cy="259.29" r="2.35"/><circle cx="353.02" cy="259.74" r="2.35"/><circle cx="353.31" cy="259.55" r="2.35"/><circle cx="353.93" cy="259.33" r="2.35"/><circle cx="354.84" cy="259.01" r="2.35"/><circle cx="355.23" cy="258.09" r="2.35"/><circle cx="355.47" cy="256.99" r="2.35"/><circle cx="356.72" cy="256.82" r="2.35"/><circle cx="357.24" cy="256.19" r="2.35"/><circle cx="357.89" cy="255.83" r="2.35"/><circle cx="357.71" cy="254.37" r="2.35"/><circle cx="358.78" cy="254.76" r="2.35"/><circle cx="359.54" cy="254.83" r="2.35"/><circle cx="359.71" cy="253.6" r="2.35"/><circle cx="360.36" cy="253.24" r="2.35"/><circle cx="361.27" cy="253.99" r="2.35"/><circle cx="361.85" cy="253.14" r="2.35"/><circle cx="362.58" cy="253.11" r="2.35"/><circle cx="363.41" cy="253.69" r="2.35"/><circle cx="364.13" cy="252.92" r="2.35"/><circle cx="364.92" cy="252.52" r="2.35"/><circle cx="365.83" cy="252.4" r="2.35"/><circle cx="366.87" cy="252.41" r="2.35"/><circle cx="368" cy="252.78" r="2.35"/><circle cx="368.96" cy="252.09" r="2.35"/><circle cx="369.98" cy="252.64" r="2.35"/><circle cx="370.99" cy="251.51" r="2.35"/><circle cx="371.83" cy="251.92" r="2.35"/><circle cx="372.44" cy="252.69" r="2.35"/><circle cx="373.25" cy="252.73" r="2.35"/><circle cx="373.95" cy="253.06" r="2.35"/><circle cx="374.39" cy="254.01" r="2.35"/><circle cx="375.54" cy="253.37" r="2.35"/><circle cx="376.37" cy="253.57" r="2.35"/><circle cx="377.23" cy="253.71" r="2.35"/><circle cx="377.66" cy="254.73" r="2.35"/><circle cx="378.56" cy="254.87" r="2.35"/><circle cx="379.17" cy="255.53" r="2.35"/><circle cx="380.31" cy="255.32" r="2.35"/><circle cx="381.09" cy="255.78" r="2.35"/><circle cx="381.56" cy="256.79" r="2.35"/><circle cx="382.01" cy="257.8" r="2.35"/><circle cx="383.2" cy="257.71" r="2.35"/><circle cx="383.34" cy="259.02" r="2.35"/><circle cx="384.32" cy="259.1" r="2.35"/><circle cx="385.1" cy="259.36" r="2.35"/><circle cx="385.27" cy="260.28" r="2.35"/><circle cx="386.39" cy="260.11" r="2.35"/><circle cx="386.44" cy="261" r="2.35"/><circle cx="386.55" cy="261.73" r="2.35"/><circle cx="387.34" cy="262.03" r="2.35"/><circle cx="388" cy="262.55" r="2.35"/><circle cx="388.61" cy="263.18" r="2.35"/><circle cx="388.09" cy="264.14" r="2.35"/><circle cx="388.88" cy="264.74" r="2.35"/><circle cx="388.82" cy="265.58" r="2.35"/><circle cx="388.84" cy="266.43" r="2.35"/><circle cx="388.56" cy="267.42" r="2.35"/><circle cx="389.27" cy="268.03" r="2.35"/><circle cx="389.83" cy="268.71" r="2.35"/><circle cx="389.73" cy="269.73" r="2.35"/><circle cx="390.89" cy="270.03" r="2.35"/><circle cx="391.24" cy="270.79" r="2.35"/><circle cx="391.41" cy="271.76" r="2.35"/><circle cx="392.13" cy="272.3" r="2.35"/><circle cx="393.11" cy="272.56" r="2.35"/><circle cx="393.54" cy="273.39" r="2.35"/><circle cx="393.8" cy="274.48" r="2.35"/><circle cx="395.02" cy="274.25" r="2.35"/><circle cx="395.38" cy="275.35" r="2.35"/><circle cx="396.57" cy="274.75" r="2.35"/><circle cx="396.81" cy="276.42" r="2.35"/><circle cx="397.75" cy="276.35" r="2.35"/><circle cx="398.78" cy="276.22" r="2.35"/><circle cx="398.78" cy="277.48" r="2.35"/><circle cx="399.54" cy="277.75" r="2.35"/><circle cx="400.96" cy="277.57" r="2.35"/><circle cx="401.22" cy="278.38" r="2.35"/><circle cx="401.37" cy="279.25" r="2.35"/><circle cx="401.17" cy="280.38" r="2.35"/><circle cx="402.77" cy="280.27" r="2.35"/><circle cx="403.41" cy="280.9" r="2.35"/><circle cx="403.58" cy="281.9" r="2.35"/><circle cx="404.46" cy="282.45" r="2.35"/><circle cx="404.48" cy="283.55" r="2.35"/><circle cx="404.79" cy="284.42" r="2.35"/><circle cx="405.38" cy="285.05" r="2.35"/><circle cx="406.21" cy="285.45" r="2.35"/><circle cx="406.8" cy="286" r="2.35"/><circle cx="406.15" cy="287.3" r="2.35"/><circle cx="407.02" cy="287.6" r="2.35"/><circle cx="407.28" cy="288.22" r="2.35"/><circle cx="407.53" cy="288.79" r="2.35"/><circle cx="407.37" cy="289.42" r="2.35"/><circle cx="407.11" cy="290" r="2.35"/><circle cx="407.26" cy="290.54" r="2.35"/><circle cx="407.43" cy="291.05" r="2.35"/><circle cx="408.05" cy="291.47" r="2.35"/><circle cx="407.8" cy="291.8" r="2.35"/></g>
<g fill="#a046aa"><circle cx="267" cy="194" r="2.6"/><circle cx="268.2" cy="200" r="2.6"/><circle cx="270" cy="205" r="2.6"/><circle cx="272.5" cy="210" r="2.6"/><circle cx="275" cy="214" r="2.6"/></g>
<g fill="#a046aa"><circle cx="266.5" cy="190.8" r="2.9"/></g>
<g fill="#4848ff"><circle cx="408.6" cy="297" r="2.6"/><circle cx="411.5" cy="298.4" r="2.6"/><circle cx="410" cy="299.8" r="2.6"/><circle cx="413.2" cy="298.6" r="2.6"/><circle cx="409.5" cy="296.4" r="2.6"/></g>
<path d="M407.4 283.3L410.4 276.7L408.25 277.7L408.25 265.5L406.55 265.5L406.55 277.7L404.4 276.7Z" fill="#000"/>
<path d="M380.4 291L383.5 297L381.4 296L381.4 301L379.4 301L379.4 296L377.3 297Z" fill="#ff4848"/>
<path d="M380.4 312.6L383.5 306.6L381.4 307.6L381.4 302.8L379.4 302.8L379.4 307.6L377.3 306.6Z" fill="#4848ff"/>
<path d="M387 291L390.1 297L388 296L388 301L386 301L386 296L383.9 297Z" fill="#ff4848"/>
<path d="M387 312.6L390.1 306.6L388 307.6L388 302.8L386 302.8L386 307.6L383.9 306.6Z" fill="#4848ff"/>
<path d="M393.5 291L396.6 297L394.5 296L394.5 301L392.5 301L392.5 296L390.4 297Z" fill="#ff4848"/>
<path d="M393.5 312.6L396.6 306.6L394.5 307.6L394.5 302.8L392.5 302.8L392.5 307.6L390.4 306.6Z" fill="#4848ff"/>
<path d="M420.8 301.2L423.9 295.2L421.8 296.2L421.8 291L419.8 291L419.8 296.2L417.7 295.2Z" fill="#4848ff"/>
<path d="M420.8 312.6L423.9 306.6L421.8 307.6L421.8 302.4L419.8 302.4L419.8 307.6L417.7 306.6Z" fill="#4848ff"/>
<path d="M427.3 301.2L430.4 295.2L428.3 296.2L428.3 291L426.3 291L426.3 296.2L424.2 295.2Z" fill="#4848ff"/>
<path d="M427.3 312.6L430.4 306.6L428.3 307.6L428.3 302.4L426.3 302.4L426.3 307.6L424.2 306.6Z" fill="#4848ff"/>
<path d="M433.5 301.2L436.6 295.2L434.5 296.2L434.5 291L432.5 291L432.5 296.2L430.4 295.2Z" fill="#4848ff"/>
<path d="M433.5 312.6L436.6 306.6L434.5 307.6L434.5 302.4L432.5 302.4L432.5 307.6L430.4 306.6Z" fill="#4848ff"/>
<rect x="265.9" y="185.2" width="173.7" height="129" fill="none" stroke="#505050" stroke-width="1.2" stroke-opacity="0.75" stroke-linejoin="round"/>
<line x1="265.9" y1="203.7" x2="269.9" y2="203.7" stroke="#505050" stroke-width="1.1" stroke-opacity="0.75"/>
<line x1="265.9" y1="249.6" x2="269.9" y2="249.6" stroke="#505050" stroke-width="1.1" stroke-opacity="0.75"/>
<line x1="265.9" y1="296.2" x2="269.9" y2="296.2" stroke="#505050" stroke-width="1.1" stroke-opacity="0.75"/>
<line x1="316.9" y1="314.2" x2="316.9" y2="310.2" stroke="#505050" stroke-width="1.1" stroke-opacity="0.75"/>
<line x1="368.2" y1="314.2" x2="368.2" y2="310.2" stroke="#505050" stroke-width="1.1" stroke-opacity="0.75"/>
<line x1="419.3" y1="314.2" x2="419.3" y2="310.2" stroke="#505050" stroke-width="1.1" stroke-opacity="0.75"/>
<rect x="368.3" y="186.4" width="62.9" height="49.4" fill="#ffffff"/>
<polyline points="368.5,215.1 370.3,208.2 372.9,212.5 375.5,215.9 378.1,211.6 381.6,211.6 383.3,209.9 386.7,207.3 389.3,198.7 391,192.7 393.6,199.6 397.1,206.4 400.5,215.9 403.9,223.7 407.4,226.3 410.9,225.4 413.4,227.1 415.2,228 417.8,222 421.2,222 423.8,224.6 426.4,210.8 428.1,213.3 430.7,206.4" fill="none" stroke="#a046aa" stroke-width="1.8" stroke-linejoin="round" stroke-linecap="round"/>
<polyline points="368.5,203.9 370.3,210.8 372.9,218.5 374.7,212.5 376.4,202.1 378.1,218.5 379.8,209.9 381.6,205.6 385,203 386.7,202.1 389.3,188.7 391,191.8 392.8,200.4 395.3,208.2 398.8,214.2 401.4,220.2 403.1,226.3 404.8,229.7 406.2,233.5 408.3,229.7 410,230.6 412.6,229.4 415.2,229.7 417.8,222 420.3,220.2 422.9,215.9 424.7,217.7 427.2,212.5 429.8,206.4 431,205.6" fill="none" stroke="#4848ff" stroke-width="1.8" stroke-linejoin="round" stroke-linecap="round"/>
<rect x="368.3" y="186.4" width="62.9" height="49.4" fill="none" stroke="#505050" stroke-width="1.2" stroke-opacity="0.75" stroke-linejoin="round"/>
<line x1="368.3" y1="194.7" x2="371.3" y2="194.7" stroke="#505050" stroke-width="1.1" stroke-opacity="0.75"/>
<line x1="368.3" y1="214.2" x2="371.3" y2="214.2" stroke="#505050" stroke-width="1.1" stroke-opacity="0.75"/>
<line x1="368.3" y1="234" x2="371.3" y2="234" stroke="#505050" stroke-width="1.1" stroke-opacity="0.75"/>
<line x1="399.7" y1="235.8" x2="399.7" y2="232.8" stroke="#505050" stroke-width="1.1" stroke-opacity="0.75"/>
<rect x="538.2" y="272.66" width="7.65" height="41.84" fill="#8c8c8c" stroke="#e6e6e6" stroke-width="0.8"/>
<rect x="545.85" y="230.82" width="7.65" height="83.68" fill="#8c8c8c" stroke="#e6e6e6" stroke-width="0.8"/>
<rect x="553.5" y="251.74" width="7.65" height="62.76" fill="#8c8c8c" stroke="#e6e6e6" stroke-width="0.8"/>
<rect x="561.15" y="147.14" width="7.65" height="167.36" fill="#8c8c8c" stroke="#e6e6e6" stroke-width="0.8"/>
<rect x="568.8" y="126.22" width="7.65" height="188.28" fill="#8c8c8c" stroke="#e6e6e6" stroke-width="0.8"/>
<rect x="576.45" y="21.62" width="7.65" height="292.88" fill="#8c8c8c" stroke="#e6e6e6" stroke-width="0.8"/>
<rect x="584.1" y="251.74" width="7.65" height="62.76" fill="#8c8c8c" stroke="#e6e6e6" stroke-width="0.8"/>
<rect x="591.75" y="251.74" width="7.65" height="62.76" fill="#8c8c8c" stroke="#e6e6e6" stroke-width="0.8"/>
<rect x="599.4" y="293.58" width="7.65" height="20.92" fill="#8c8c8c" stroke="#e6e6e6" stroke-width="0.8"/>
<rect x="607.05" y="293.58" width="7.65" height="20.92" fill="#8c8c8c" stroke="#e6e6e6" stroke-width="0.8"/>
<rect x="614.7" y="272.66" width="7.65" height="41.84" fill="#8c8c8c" stroke="#e6e6e6" stroke-width="0.8"/>
<rect x="637.65" y="251.74" width="7.65" height="62.76" fill="#8c8c8c" stroke="#e6e6e6" stroke-width="0.8"/>
<rect x="645.3" y="293.58" width="7.65" height="20.92" fill="#8c8c8c" stroke="#e6e6e6" stroke-width="0.8"/>
<rect x="652.95" y="272.66" width="7.65" height="41.84" fill="#8c8c8c" stroke="#e6e6e6" stroke-width="0.8"/>
<rect x="492.3" y="6.5" width="186" height="308" fill="none" stroke="#505050" stroke-width="1.2" stroke-opacity="0.75" stroke-linejoin="round"/>
<line x1="492.3" y1="209.9" x2="496.3" y2="209.9" stroke="#505050" stroke-width="1.1" stroke-opacity="0.75"/>
<line x1="492.3" y1="105.3" x2="496.3" y2="105.3" stroke="#505050" stroke-width="1.1" stroke-opacity="0.75"/>
<line x1="585.1" y1="314.5" x2="585.1" y2="310.5" stroke="#505050" stroke-width="1.1" stroke-opacity="0.75"/>
<g opacity="0.999" stroke="#1a1a1a" stroke-width="0.15"><text transform="translate(0.94 7.94) scale(0.811 0.832)" font-size="17" font-weight="bold" fill="#000">a</text>
<text transform="translate(19.96 15.05) scale(0.988 0.929)" font-size="10" fill="#1a1a1a">2.5</text>
<text transform="translate(27.67 74.60) scale(0.968 0.929)" font-size="10" fill="#1a1a1a">0</text>
<text transform="translate(15.08 133.30) scale(0.939 0.929)" font-size="10" fill="#1a1a1a">−2.5</text>
<text transform="translate(78.93 148.35) scale(1.035 0.929)" font-size="10" fill="#1a1a1a">0.34</text>
<text transform="translate(180.21 148.35) scale(1.070 0.929)" font-size="10" fill="#1a1a1a">0.36</text>
<text transform="translate(111.00 161.58) scale(1.002 1.004)" font-size="11" fill="#1a1a1a"><tspan font-style="italic">B</tspan><tspan font-style="italic" font-size="8" dx="-0.7" dy="3.8">z</tspan><tspan dy="-3.8"> (T)</tspan></text>
<text transform="translate(9.39 91.62) scale(1.005 1.064) rotate(-90)" font-size="11" fill="#1a1a1a">Δ<tspan font-style="italic">z</tspan> (pm)</text>
<text transform="translate(0.10 188.62) scale(1.000 0.920)" font-size="17" font-weight="bold" fill="#000">b</text>
<text transform="translate(20.02 200.55) scale(0.973 0.929)" font-size="10" fill="#1a1a1a">1.0</text>
<text transform="translate(27.67 252.85) scale(0.968 0.929)" font-size="10" fill="#1a1a1a">0</text>
<text transform="translate(16.11 304.65) scale(0.874 0.929)" font-size="10" fill="#1a1a1a">−1.0</text>
<text transform="translate(26.43 326.60) scale(1.033 0.929)" font-size="10" fill="#1a1a1a">−0.30</text>
<text transform="translate(141.05 326.60) scale(0.992 0.929)" font-size="10" fill="#1a1a1a">−0.28</text>
<text transform="translate(111.81 342.58) scale(0.972 1.004)" font-size="11" fill="#1a1a1a"><tspan font-style="italic">B</tspan><tspan font-style="italic" font-size="8" dx="-0.7" dy="3.8">z</tspan><tspan dy="-3.8"> (T)</tspan></text>
<text transform="translate(10.77 271.62) scale(1.015 1.064) rotate(-90)" font-size="11" fill="#1a1a1a">Δ<tspan font-style="italic">z</tspan> (pm)</text>
<text transform="translate(231.50 8.14) scale(0.994 0.854)" font-size="17" font-weight="bold" fill="#000">c</text>
<text transform="translate(255.18 28.25) scale(0.933 0.929)" font-size="10" fill="#1a1a1a">2</text>
<text transform="translate(253.52 74.60) scale(1.263 0.929)" font-size="10" fill="#1a1a1a">0</text>
<text transform="translate(250.11 120.50) scale(0.876 0.929)" font-size="10" fill="#1a1a1a">−2</text>
<text transform="translate(262.93 148.45) scale(1.032 0.929)" font-size="10" fill="#1a1a1a">0</text>
<text transform="translate(314.42 148.45) scale(0.863 0.929)" font-size="10" fill="#1a1a1a">5</text>
<text transform="translate(362.64 148.45) scale(0.950 0.929)" font-size="10" fill="#1a1a1a">10</text>
<text transform="translate(414.94 148.45) scale(0.810 0.929)" font-size="10" fill="#1a1a1a">15</text>
<text transform="translate(332.59 164.94) scale(1.033 0.937)" font-size="11" fill="#1a1a1a">Time (s)</text>
<text transform="translate(240.88 91.61) scale(0.966 1.053) rotate(-90)" font-size="11" fill="#1a1a1a">Δ<tspan font-style="italic">z</tspan> (pm)</text>
<text transform="translate(356.15 15.45) scale(0.790 0.818)" font-size="8" fill="#1a1a1a">1.1</text>
<text transform="translate(354.37 38.45) scale(0.956 0.873)" font-size="8" fill="#1a1a1a">1.0</text>
<text transform="translate(361.99 67.55) scale(1.045 0.909)" font-size="8" fill="#1a1a1a">-10</text>
<text transform="translate(397.34 67.55) scale(0.825 0.909)" font-size="8" fill="#1a1a1a">0</text>
<text transform="translate(426.60 67.55) scale(0.900 0.909)" font-size="8" fill="#1a1a1a">10</text>
<text transform="translate(378.33 80.09) scale(0.960 0.930)" font-size="10" fill="#1a1a1a">Bias (mV)</text>
<text transform="translate(348.28 64.06) scale(0.984 1.014) rotate(-90)" font-size="10" fill="#1a1a1a">g(<tspan font-style="italic">V</tspan>) (norm.)</text>
<text transform="translate(231.36 188.82) scale(1.047 0.936)" font-size="17" font-weight="bold" fill="#000">d</text>
<text transform="translate(255.08 209.35) scale(0.933 0.929)" font-size="10" fill="#1a1a1a">2</text>
<text transform="translate(253.78 255.60) scale(1.137 0.929)" font-size="10" fill="#1a1a1a">0</text>
<text transform="translate(250.11 301.90) scale(0.876 0.929)" font-size="10" fill="#1a1a1a">−2</text>
<text transform="translate(262.53 326.65) scale(1.032 0.929)" font-size="10" fill="#1a1a1a">0</text>
<text transform="translate(314.42 326.65) scale(0.863 0.929)" font-size="10" fill="#1a1a1a">5</text>
<text transform="translate(362.64 326.65) scale(0.950 0.929)" font-size="10" fill="#1a1a1a">10</text>
<text transform="translate(414.94 326.65) scale(0.810 0.929)" font-size="10" fill="#1a1a1a">15</text>
<text transform="translate(333.09 342.24) scale(1.033 0.937)" font-size="11" fill="#1a1a1a">Time (s)</text>
<text transform="translate(241.09 272.31) scale(1.005 1.043) rotate(-90)" font-size="11" fill="#1a1a1a">Δ<tspan font-style="italic">z</tspan> (pm)</text>
<text transform="translate(356.83 196.85) scale(0.634 0.836)" font-size="8" fill="#1a1a1a">1.1</text>
<text transform="translate(354.74 216.95) scale(0.829 0.836)" font-size="8" fill="#1a1a1a">1.0</text>
<text transform="translate(354.93 236.25) scale(0.867 0.836)" font-size="8" fill="#1a1a1a">0.9</text>
<text transform="translate(363.29 245.55) scale(1.036 0.836)" font-size="8" fill="#1a1a1a">-10</text>
<text transform="translate(398.34 245.55) scale(0.825 0.836)" font-size="8" fill="#1a1a1a">0</text>
<text transform="translate(427.00 245.55) scale(0.900 0.836)" font-size="8" fill="#1a1a1a">10</text>
<text transform="translate(380.31 256.09) scale(0.984 0.930)" font-size="10" fill="#1a1a1a">Bias (mV)</text>
<text transform="translate(345.40 240.95) scale(0.973 0.999) rotate(-90)" font-size="10" fill="#1a1a1a">g(<tspan font-style="italic">V</tspan>) (norm.)</text>
<text transform="translate(458.71 8.14) scale(1.125 0.854)" font-size="17" font-weight="bold" fill="#000">e</text>
<text transform="translate(480.72 319.75) scale(1.053 0.929)" font-size="10" fill="#1a1a1a">0</text>
<text transform="translate(481.46 213.80) scale(0.989 0.929)" font-size="10" fill="#1a1a1a">5</text>
<text transform="translate(476.67 108.25) scale(0.900 0.929)" font-size="10" fill="#1a1a1a">10</text>
<text transform="translate(489.10 326.80) scale(1.095 0.929)" font-size="10" fill="#1a1a1a">0</text>
<text transform="translate(577.83 326.70) scale(1.046 0.929)" font-size="10" fill="#1a1a1a">0.5</text>
<text transform="translate(671.57 326.70) scale(1.035 0.929)" font-size="10" fill="#1a1a1a">1.0</text>
<text transform="translate(552.72 344.87) scale(1.132 1.015)" font-size="11" fill="#1a1a1a">Height (pm)</text>
<text transform="translate(468.79 195.31) scale(1.038 1.119) rotate(-90)" font-size="11" fill="#1a1a1a">Occurrences</text></g>
</svg>
</body></html>
